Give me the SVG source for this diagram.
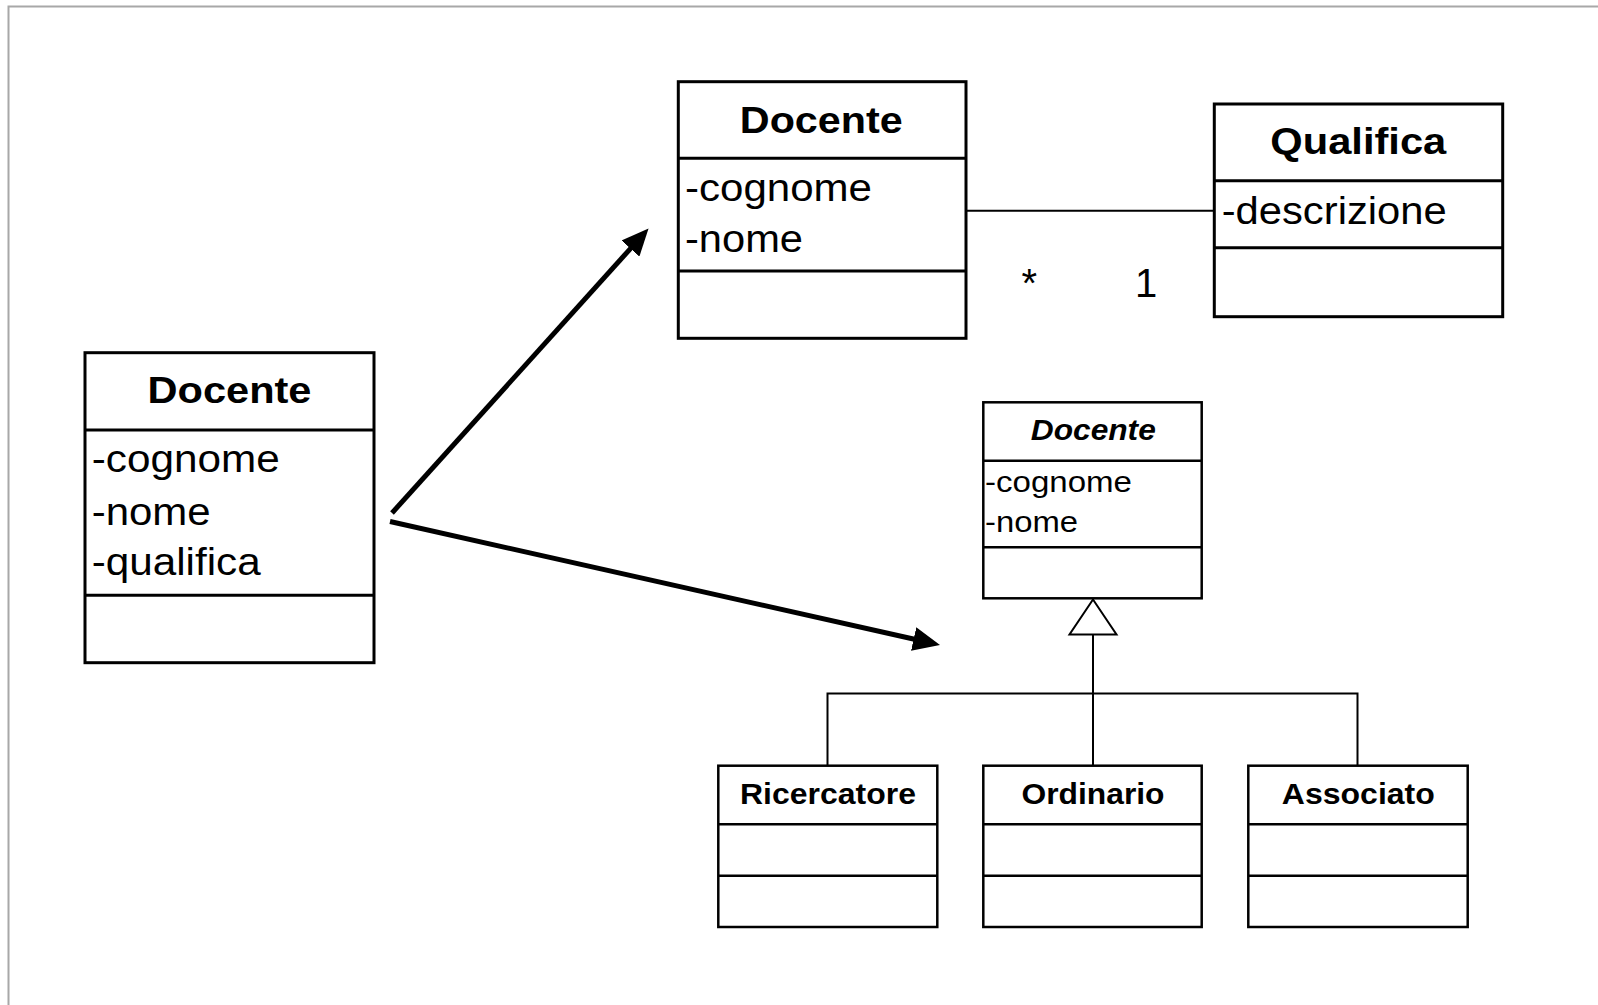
<svg xmlns="http://www.w3.org/2000/svg" width="1598" height="1005" viewBox="0 0 1598 1005">
<defs>
<style>
.box{fill:#fff;stroke:#000;stroke-width:3}
.sbox{fill:#fff;stroke:#000;stroke-width:2.5}
.sep{stroke:#000;stroke-width:3}
.ssep{stroke:#000;stroke-width:2.5}
.t{font-family:"Liberation Sans",Arial,sans-serif;fill:#000}
.b{font-weight:bold;text-anchor:middle}
.conn{stroke:#000;stroke-width:2;fill:none}
.arrow{stroke:#000;stroke-width:5;fill:none}
</style>
<marker id="ah" viewBox="0 0 27 24" refX="2" refY="12" markerWidth="27" markerHeight="24" markerUnits="userSpaceOnUse" orient="auto">
<path d="M0,0 L27,12 L0,24 z" fill="#000"/>
</marker>
</defs>
<rect width="1598" height="1005" fill="#fff"/>
<path d="M8.5,1005 V6.5 H1598" fill="none" stroke="#a8a8a8" stroke-width="2"/>

<g id="docente-left">
<rect class="box" x="85" y="352.7" width="289" height="310"/>
<line class="sep" x1="85" y1="430" x2="374" y2="430"/>
<line class="sep" x1="85" y1="595.3" x2="374" y2="595.3"/>
<text class="t b" x="229.5" y="403.3" font-size="37" textLength="164" lengthAdjust="spacingAndGlyphs">Docente</text>
<text class="t" x="91.7" y="471.7" font-size="38" textLength="188" lengthAdjust="spacingAndGlyphs">-cognome</text>
<text class="t" x="91.7" y="525" font-size="38" textLength="119" lengthAdjust="spacingAndGlyphs">-nome</text>
<text class="t" x="91.7" y="575" font-size="38" textLength="169" lengthAdjust="spacingAndGlyphs">-qualifica</text>
</g>

<g id="docente-top">
<rect class="box" x="678.3" y="81.7" width="287.7" height="256.6"/>
<line class="sep" x1="678.3" y1="158.3" x2="966" y2="158.3"/>
<line class="sep" x1="678.3" y1="271" x2="966" y2="271"/>
<text class="t b" x="821.3" y="133.3" font-size="37" textLength="163" lengthAdjust="spacingAndGlyphs">Docente</text>
<text class="t" x="685" y="201" font-size="38" textLength="187" lengthAdjust="spacingAndGlyphs">-cognome</text>
<text class="t" x="685" y="251.7" font-size="38" textLength="118" lengthAdjust="spacingAndGlyphs">-nome</text>
</g>

<g id="qualifica">
<rect class="box" x="1214.3" y="104" width="288.4" height="212.7"/>
<line class="sep" x1="1214.3" y1="180.7" x2="1502.7" y2="180.7"/>
<line class="sep" x1="1214.3" y1="247.7" x2="1502.7" y2="247.7"/>
<text class="t b" x="1358.3" y="154.3" font-size="37" textLength="176" lengthAdjust="spacingAndGlyphs">Qualifica</text>
<text class="t" x="1221.7" y="223.5" font-size="38" textLength="225" lengthAdjust="spacingAndGlyphs">-descrizione</text>
</g>

<g id="docente-abstract">
<rect class="sbox" x="983.3" y="402.3" width="218.4" height="196"/>
<line class="ssep" x1="983.3" y1="460.7" x2="1201.7" y2="460.7"/>
<line class="ssep" x1="983.3" y1="547.3" x2="1201.7" y2="547.3"/>
<text class="t b" x="1093.3" y="440" font-size="29" font-style="italic" textLength="125" lengthAdjust="spacingAndGlyphs">Docente</text>
<text class="t" x="985" y="491.7" font-size="30" textLength="147" lengthAdjust="spacingAndGlyphs">-cognome</text>
<text class="t" x="985" y="531.7" font-size="30" textLength="93" lengthAdjust="spacingAndGlyphs">-nome</text>
</g>

<g id="ricercatore">
<rect class="sbox" x="718.3" y="765.7" width="219" height="161.3"/>
<line class="ssep" x1="718.3" y1="824.3" x2="937.3" y2="824.3"/>
<line class="ssep" x1="718.3" y1="875.7" x2="937.3" y2="875.7"/>
<text class="t b" x="828" y="804" font-size="29" textLength="176" lengthAdjust="spacingAndGlyphs">Ricercatore</text>
</g>

<g id="ordinario">
<rect class="sbox" x="983.3" y="765.7" width="218.4" height="161.3"/>
<line class="ssep" x1="983.3" y1="824.3" x2="1201.7" y2="824.3"/>
<line class="ssep" x1="983.3" y1="875.7" x2="1201.7" y2="875.7"/>
<text class="t b" x="1093" y="804" font-size="29" textLength="143" lengthAdjust="spacingAndGlyphs">Ordinario</text>
</g>

<g id="associato">
<rect class="sbox" x="1248.3" y="765.7" width="219.4" height="161.3"/>
<line class="ssep" x1="1248.3" y1="824.3" x2="1467.7" y2="824.3"/>
<line class="ssep" x1="1248.3" y1="875.7" x2="1467.7" y2="875.7"/>
<text class="t b" x="1358.3" y="804" font-size="29" textLength="153" lengthAdjust="spacingAndGlyphs">Associato</text>
</g>

<g id="connectors">
<line class="conn" x1="966" y1="210.7" x2="1214.3" y2="210.7"/>
<text class="t" x="1029.3" y="297" font-size="40" text-anchor="middle">*</text>
<text class="t" x="1135" y="297.3" font-size="40">1</text>
<path class="conn" d="M1093,634.5 V765.7 M827.5,765.7 V693.5 H1357.5 V765.7"/>
<path d="M1093,599.5 L1116.5,634.5 L1069.5,634.5 z" fill="#fff" stroke="#000" stroke-width="2"/>
<line class="arrow" x1="392" y1="513" x2="631.8" y2="247.1" marker-end="url(#ah)"/>
<line class="arrow" x1="390" y1="521.5" x2="915.6" y2="639.5" marker-end="url(#ah)"/>
</g>
</svg>
